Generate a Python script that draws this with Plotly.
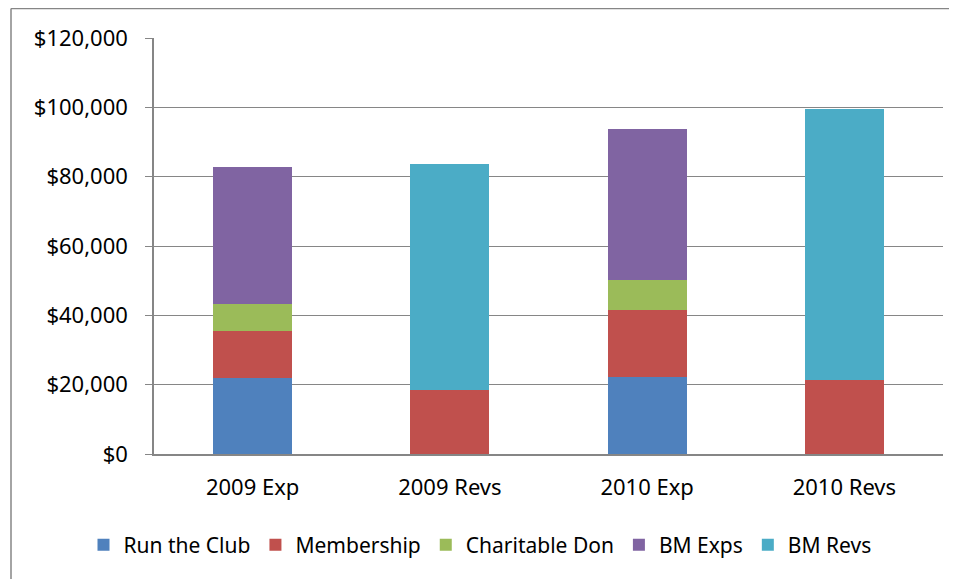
import plotly.graph_objects as go

categories = ["2009 Exp", "2009 Revs", "2010 Exp", "2010 Revs"]
series_names = ["Run the Club", "Membership", "Charitable Don", "BM Exps", "BM Revs"]
run_the_club = [21800, None, 22100, None]
membership = [13800, 18500, 19500, 21400]
charitable_don = [7700, None, 8700, None]
bm_exps = [39600, None, 43400, None]
bm_revs = [None, 65200, None, 78100]
tick_vals = [0, 20000, 40000, 60000, 80000, 100000, 120000]
tick_text = ["$0", "$20,000", "$40,000", "$60,000", "$80,000", "$100,000", "$120,000"]

colors = ["#4F81BD", "#C0504D", "#9BBB59", "#8064A2", "#4BACC6"]
values = [run_the_club, membership, charitable_don, bm_exps, bm_revs]

FONT = "Noto Sans, sans-serif"
FS = 22
LFS = 21

fig = go.Figure()
for name, vals, col in zip(series_names, values, colors):
    fig.add_trace(go.Bar(x=categories, y=vals, name=name, marker=dict(color=col, line=dict(width=0))))

# page body has an 8px margin, so the figure sits at (8,8); its right/bottom edges fall off-screen
W, H = 957, 579
L, R, T, B = 146, 22, 30, 133
pw, ph = W - L - R, H - T - B

def px_x(p):
    return (p - L) / pw

def px_y(p):
    return (H - B - p) / ph

border = dict(color="#868686", width=1.5)

fig.update_layout(
    width=W, height=H,
    barmode="stack", bargap=0.6,
    margin=dict(l=L, r=R, t=T, b=B, pad=0, autoexpand=False),
    plot_bgcolor="white", paper_bgcolor="white",
    font=dict(family=FONT, size=FS, color="black"),
    showlegend=True,
    legend=dict(orientation="h", x=px_x(472), xanchor="center", xref="paper",
                y=px_y(537), yanchor="middle", yref="paper", font=dict(size=LFS),
                traceorder="normal", itemwidth=30),
    xaxis=dict(showline=True, linecolor="#868686", linewidth=1.5, ticks="",
               tickfont=dict(size=FS), showgrid=False, tickangle=0, automargin=False,
               ticklabelstandoff=13),
    yaxis=dict(range=[0, 120000], tickvals=tick_vals, ticktext=tick_text,
               showgrid=True, gridcolor="#868686", gridwidth=1.2,
               showline=True, linecolor="#868686", linewidth=1.5,
               ticks="outside", ticklen=7, tickcolor="#868686", tickwidth=1.2,
               tickfont=dict(size=FS), zeroline=False, automargin=False,
               ticklabelstandoff=13),
    shapes=[
        dict(type="line", xref="paper", yref="paper",
             x0=px_x(3), x1=px_x(3), y0=px_y(H), y1=px_y(0.6), line=border, layer="below"),
        dict(type="line", xref="paper", yref="paper",
             x0=px_x(3), x1=px_x(W), y0=px_y(0.6), y1=px_y(0.6), line=border, layer="below"),
    ],
)

fig.write_html("out.html")
